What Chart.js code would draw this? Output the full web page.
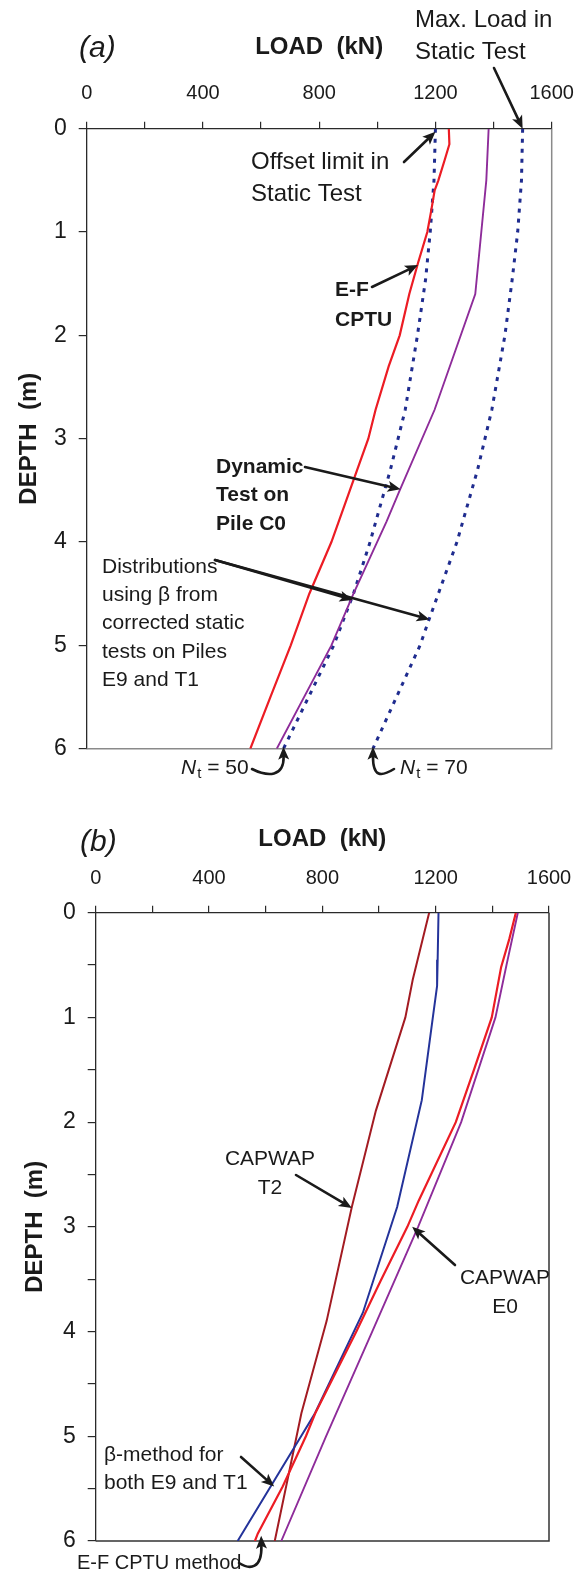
<!DOCTYPE html>
<html>
<head>
<meta charset="utf-8">
<script src="https://cdn.jsdelivr.net/npm/chart.js@4.4.0/dist/chart.umd.min.js"></script>
<style>
  body { margin: 0; background: #fff; width: 578px; height: 1575px; overflow: hidden; }
  .panel { position: absolute; left: 0; width: 578px; }
  #panelA { top: 0; }
  #panelB { top: 790px; }
</style>
</head>
<body>
<div class="panel" id="panelA"><canvas id="chartA" width="578" height="790"></canvas></div>
<div class="panel" id="panelB"><canvas id="chartB" width="578" height="785"></canvas></div>
<script>
const FONT = '"Liberation Sans", Arial, Helvetica, sans-serif';
const INK = '#1a1a1a';

// (a) load (kN) against depth (m)
const depthA_cptu = [0, 0.15, 0.3, 0.5, 0.6, 0.8, 1.0, 1.3, 1.6, 2.0, 2.3, 2.72, 3.0, 3.4, 4.0, 4.5, 5.0, 5.5, 6.0];
const loadA_cptu  = [1246, 1248, 1232, 1210, 1197, 1185, 1172, 1140, 1110, 1077, 1039, 994, 969, 918, 842, 766, 702, 632, 563];
const depthA_dyn  = [0, 0.5, 1.6, 2.72, 3.5, 3.8, 4.5, 5.0, 6.0];
const loadA_dyn   = [1383, 1375, 1337, 1197, 1077, 1032, 918, 842, 654];
const depthA_nt50 = [0, 0.5, 1.0, 1.46, 2.0, 2.72, 3.3, 4.0, 4.5, 5.0, 6.0];
const loadA_nt50  = [1200, 1195, 1182, 1166, 1138, 1096, 1045, 975, 918, 850, 677];
const depthA_nt70 = [0, 0.5, 1.0, 1.46, 2.0, 2.72, 3.3, 4.0, 4.75, 5.0, 6.0];
const loadA_nt70  = [1500, 1496, 1483, 1464, 1439, 1394, 1345, 1274, 1178, 1147, 985];

// (b)
const depthB_t2   = [0, 0.64, 1.0, 1.89, 2.81, 3.9, 4.78, 6.0];
const loadB_t2    = [1177, 1119, 1093, 989, 904, 815, 726, 632];
const depthB_beta = [0, 0.45, 0.7, 1.0, 1.79, 2.81, 3.82, 4.78, 6.0];
const loadB_beta  = [1210, 1207, 1205, 1190, 1151, 1064, 943, 774, 501];
const depthB_cptu = [0, 0.25, 0.52, 1.0, 1.5, 2.0, 2.75, 3.0, 3.52, 4.0, 4.78, 5.0, 5.48, 5.93, 6.0];
const loadB_cptu  = [1483, 1460, 1431, 1398, 1335, 1271, 1140, 1100, 1005, 920, 775, 742, 660, 572, 562];
const depthB_e0   = [0, 0.5, 1.0, 2.0, 3.0, 4.0, 5.0, 6.0];
const loadB_e0    = [1490, 1450, 1411, 1290, 1138, 976, 813, 655];

const loadLabels = [0, 400, 800, 1200, 1600];

Chart.defaults.font.family = FONT;
Chart.defaults.color = INK;

const pts = (depth, load) => depth.map((d, i) => ({ x: load[i], y: d }));

function line(depth, load, color, width, dash) {
  return {
    data: pts(depth, load), showLine: true, borderColor: color, borderWidth: width,
    borderDash: dash || [], pointRadius: 0, tension: 0, fill: false
  };
}

function scales(o) {
  return {
    x: {
      type: 'linear', position: 'top', min: 0, max: 1600,
      ticks: { stepSize: 200, autoSkip: false, maxRotation: 0, padding: o.xPad,
               font: { size: 20 }, color: INK,
               callback: v => loadLabels.includes(v) ? v : '' },
      grid: { drawOnChartArea: false, tickLength: 7, color: '#2a2a2a', lineWidth: 1.2 },
      border: { color: '#2a2a2a', width: 1.3 },
      title: { display: true, text: 'LOAD  (kN)', color: INK,
               font: { size: 24, weight: 'bold' }, padding: { top: o.xTitle, bottom: 0 } },
      // fixed band height; side overhang is handled by the layout padding
      afterFit: s => { s.height = o.top; s.paddingLeft = 0; s.paddingRight = 0; }
    },
    y: {
      type: 'linear', reverse: true, min: 0, max: 6,
      ticks: { stepSize: o.depthStep, autoSkip: false, padding: 12,
               font: { size: 23 }, color: INK,
               callback: v => Number.isInteger(v) ? v : '' },
      grid: { drawOnChartArea: false, tickLength: 8, color: '#2a2a2a', lineWidth: 1.2 },
      border: { color: o.leftColor, width: 1.3 },
      title: { display: true, text: 'DEPTH  (m)', color: INK,
               font: { size: 24, weight: 'bold' }, padding: { top: o.yTitle, bottom: 0 } },
      afterFit: s => { s.width = o.left; s.paddingTop = 0; s.paddingBottom = 0; }
    }
  };
}

// right and bottom edges of the plot box
function framePlugin(color) {
  return {
    id: 'frame',
    beforeDatasetsDraw(chart) {
      const { left, right, top, bottom } = chart.chartArea;
      const ctx = chart.ctx;
      ctx.save();
      ctx.strokeStyle = color;
      ctx.lineWidth = 1.5;
      ctx.beginPath();
      ctx.moveTo(left, bottom);
      ctx.lineTo(right, bottom);
      ctx.lineTo(right, top);
      ctx.stroke();
      ctx.restore();
    }
  };
}

function fontOf(t) {
  return (t.italic ? 'italic ' : '') + (t.bold ? 'bold ' : '') + t.size + 'px ' + FONT;
}

function drawText(ctx, t) {
  ctx.save();
  ctx.fillStyle = INK;
  ctx.textBaseline = 'middle';
  if (t.rich) {
    let x = t.x;
    t.rich.forEach(seg => {
      const size = seg.sub ? Math.round(t.size * 0.72) : t.size;
      ctx.font = (seg.italic ? 'italic ' : '') + size + 'px ' + FONT;
      ctx.textAlign = 'left';
      ctx.fillText(seg.s, x, t.y + (seg.sub ? 6 : 0));
      x += ctx.measureText(seg.s).width + (seg.italic ? 1 : 0);
    });
  } else {
    ctx.font = fontOf(t);
    ctx.textAlign = t.align || 'left';
    t.lines.forEach((s, i) => ctx.fillText(s, t.x, t.y + i * (t.lh || 0)));
  }
  ctx.restore();
}

function drawArrow(ctx, from, tip, via) {
  const head = 13, wide = 11, notch = 3;
  const ref = via ? via[1] : from;
  let dx = tip[0] - ref[0], dy = tip[1] - ref[1];
  const len = Math.hypot(dx, dy);
  dx /= len; dy /= len;
  const bx = tip[0] - dx * head, by = tip[1] - dy * head;
  const nx = bx + dx * notch, ny = by + dy * notch;
  ctx.save();
  ctx.strokeStyle = INK;
  ctx.fillStyle = INK;
  ctx.lineWidth = 2.6;
  ctx.lineCap = 'round';
  ctx.beginPath();
  ctx.moveTo(from[0], from[1]);
  if (via) ctx.bezierCurveTo(via[0][0], via[0][1], via[1][0], via[1][1], nx, ny);
  else ctx.lineTo(nx, ny);
  ctx.stroke();
  ctx.beginPath();
  ctx.moveTo(tip[0], tip[1]);
  ctx.lineTo(bx - dy * wide / 2, by + dx * wide / 2);
  ctx.lineTo(nx, ny);
  ctx.lineTo(bx + dy * wide / 2, by - dx * wide / 2);
  ctx.closePath();
  ctx.fill();
  ctx.restore();
}

function notesPlugin(texts, arrows) {
  return {
    id: 'notes',
    afterDraw(chart) {
      const ctx = chart.ctx;
      const { x, y } = chart.scales;
      const at = p => Array.isArray(p) ? p : [x.getPixelForValue(p.load), y.getPixelForValue(p.depth)];
      texts.forEach(t => drawText(ctx, t));
      arrows.forEach(a => drawArrow(ctx, at(a.from), at(a.to), a.via));
    }
  };
}

const textsA = [
  { x: 79, y: 49, lines: ['(a)'], size: 30, italic: true },
  { x: 415, y: 20, lines: ['Max. Load in', 'Static Test'], size: 24, lh: 32 },
  { x: 251, y: 162, lines: ['Offset limit in', 'Static Test'], size: 24, lh: 32 },
  { x: 335, y: 290, lines: ['E-F', 'CPTU'], size: 21, bold: true, lh: 30 },
  { x: 216, y: 467, lines: ['Dynamic', 'Test on', 'Pile C0'], size: 21, bold: true, lh: 28.5 },
  { x: 102, y: 567, lines: ['Distributions', 'using β from', 'corrected static', 'tests on Piles', 'E9 and T1'], size: 21, lh: 28.3 },
  { x: 181, y: 768, size: 21, rich: [{ s: 'N', italic: true }, { s: 't', sub: true }, { s: ' = 50' }] },
  { x: 400, y: 768, size: 21, rich: [{ s: 'N', italic: true }, { s: 't', sub: true }, { s: ' = 70' }] }
];
const arrowsA = [
  { from: [494, 68], to: { load: 1500, depth: 0 } },
  { from: [404, 162], to: { load: 1200, depth: 0.03 } },
  { from: [372, 287], to: { load: 1140, depth: 1.32 } },
  { from: [305, 467], to: { load: 1080, depth: 3.49 } },
  { from: [215, 560], to: { load: 915, depth: 4.56 } },
  { from: [215, 560], to: { load: 1180, depth: 4.75 } },
  { from: [252, 769], via: [[268, 777], [284, 777]], to: { load: 677, depth: 5.98 } },
  { from: [394, 769], via: [[381, 777], [373, 777]], to: { load: 985, depth: 5.98 } }
];

const textsB = [
  { x: 80, y: 53, lines: ['(b)'], size: 30, italic: true },
  { x: 270, y: 369, lines: ['CAPWAP', 'T2'], size: 21, lh: 29, align: 'center' },
  { x: 505, y: 488, lines: ['CAPWAP', 'E0'], size: 21, lh: 29, align: 'center' },
  { x: 104, y: 665, lines: ['β-method for', 'both E9 and T1'], size: 21, lh: 28 },
  { x: 77, y: 773, lines: ['E-F CPTU method'], size: 20 }
];
const arrowsB = [
  { from: [296, 385], to: { load: 904, depth: 2.82 } },
  { from: [455, 475], to: { load: 1117, depth: 3.0 } },
  { from: [241, 667], to: { load: 630, depth: 5.48 } },
  { from: [239, 773], via: [[250, 780], [262, 779]], to: { load: 584, depth: 5.95 } }
];

const baseOptions = {
  responsive: false, animation: false, devicePixelRatio: 1,
  plugins: { legend: { display: false }, tooltip: { enabled: false } }
};

new Chart(document.getElementById('chartA'), {
  type: 'scatter',
  data: {
    datasets: [
      line(depthA_cptu, loadA_cptu, '#ec1c24', 2.2),
      line(depthA_dyn, loadA_dyn, '#8e2c9a', 1.9),
      line(depthA_nt50, loadA_nt50, '#1f2c8f', 3, [4, 6]),
      line(depthA_nt70, loadA_nt70, '#1f2c8f', 3, [4, 6])
    ]
  },
  options: {
    ...baseOptions,
    layout: { padding: { left: 0, top: 0, right: 26.3, bottom: 41.3 } },
    scales: scales({ top: 128.7, left: 86.7, xPad: 16.4, xTitle: 32.6, yTitle: 14.6, depthStep: 1, leftColor: '#2a2a2a' })
  },
  plugins: [framePlugin('#8a8a8a'), notesPlugin(textsA, arrowsA)]
});

new Chart(document.getElementById('chartB'), {
  type: 'scatter',
  data: {
    datasets: [
      line(depthB_cptu, loadB_cptu, '#ec1c24', 2.2),
      line(depthB_e0, loadB_e0, '#8e2c9a', 1.9),
      line(depthB_beta, loadB_beta, '#24339a', 2),
      line(depthB_t2, loadB_t2, '#a31b22', 2)
    ]
  },
  options: {
    ...baseOptions,
    layout: { padding: { left: 0, top: 0, right: 29, bottom: 34 } },
    scales: scales({ top: 122.7, left: 95.7, xPad: 15.7, xTitle: 34.6, yTitle: 20.6, depthStep: 0.5, leftColor: '#2a2a2a' })
  },
  plugins: [framePlugin('#333333'), notesPlugin(textsB, arrowsB)]
});
</script>
</body>
</html>
